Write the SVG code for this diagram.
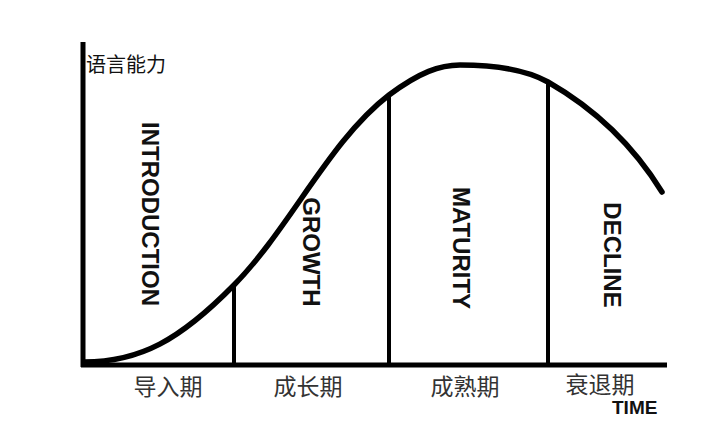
<svg xmlns="http://www.w3.org/2000/svg" width="720" height="448" viewBox="0 0 720 448">
<style>
.ax{stroke:#000;stroke-width:5;fill:none;stroke-linecap:butt}
.div{stroke:#000;stroke-width:4;fill:none}
.curve{stroke:#000;stroke-width:5.5;fill:none;stroke-linecap:round}
.stage{font-family:"Liberation Sans",Arial,sans-serif;font-weight:bold;font-size:24px;fill:#111;text-anchor:middle}
.cn{font-family:"Noto Sans CJK SC","Liberation Sans",sans-serif;font-size:23px;fill:#333;text-anchor:middle}
.ylab{font-family:"Noto Sans CJK SC","Liberation Sans",sans-serif;font-size:20px;fill:#111}
.time{font-family:"Liberation Sans",Arial,sans-serif;font-weight:bold;font-size:19px;fill:#111}
</style>
<rect width="720" height="448" fill="#fff"/>
<g id="connectors">
<path class="ax" d="M83,42 V367"/>
<path class="ax" d="M81,365 H667"/>
<path class="curve" d="M84,362 C140,362 180,340 234,285 C290,228 330,140 389,95 C420,72 440,65 460,65 C500,65 530,72 548,82 C590,106 630,140 662,192"/>
<path class="div" d="M234,285 V365"/>
<path class="div" d="M389,93 V365"/>
<path class="div" d="M548,81 V365"/>
</g>
<g id="ylabel"><text class="ylab" x="86" y="72">语言能力</text></g>
<g id="introduction"><text class="stage" transform="translate(142,214) rotate(90)">INTRODUCTION</text></g>
<g id="growth"><text class="stage" transform="translate(303,252) rotate(90)">GROWTH</text></g>
<g id="maturity"><text class="stage" transform="translate(453,248) rotate(90)">MATURITY</text></g>
<g id="decline"><text class="stage" transform="translate(604,255) rotate(90)">DECLINE</text></g>
<g id="intro-cn"><text class="cn" x="168" y="395">导入期</text></g>
<g id="growth-cn"><text class="cn" x="308" y="395">成长期</text></g>
<g id="maturity-cn"><text class="cn" x="465" y="395">成熟期</text></g>
<g id="decline-cn"><text class="cn" x="600" y="393">衰退期</text></g>
<g id="time"><text class="time" x="612" y="414">TIME</text></g>
</svg>
